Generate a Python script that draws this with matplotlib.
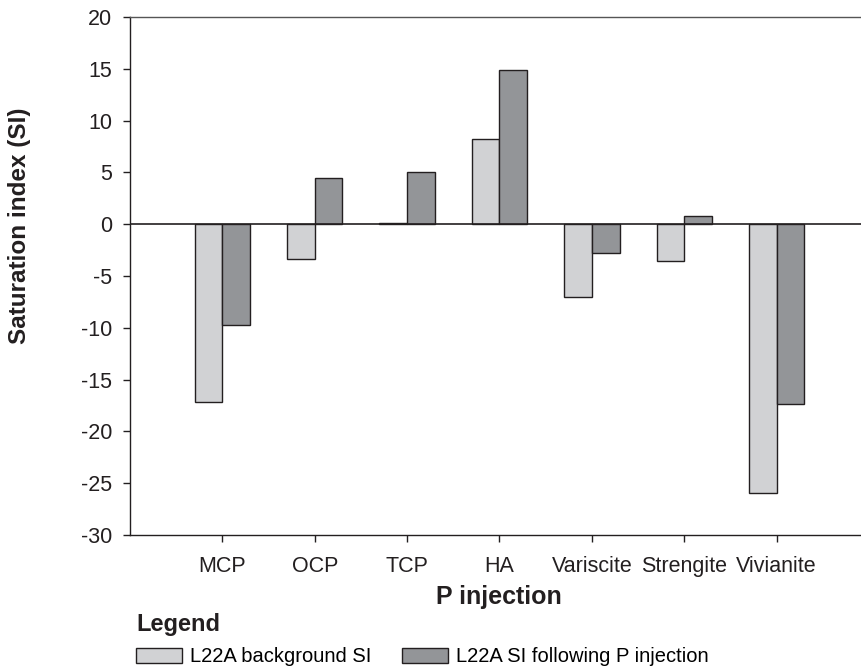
import matplotlib
matplotlib.use("Agg")
import matplotlib.pyplot as plt
import numpy as np

plt.rcParams["axes.unicode_minus"] = False

# data
minerals = ["MCP", "OCP", "TCP", "HA", "Variscite", "Strengite", "Vivianite"]
background_si = [-17.15, -3.4, 0.13, 8.27, -7.0, -3.53, -25.9]
injection_si = [-9.72, 4.47, 5.0, 14.84, -2.75, 0.81, -17.4]
series_names = ["L22A background SI", "L22A SI following P injection"]

light = "#d1d2d4"
dark = "#939598"
edge = "#231f20"

fig = plt.figure(figsize=(8.62, 6.72), dpi=100)
ax = fig.add_axes([130 / 862, 1 - 535 / 672, 739 / 862, 518 / 672])

x = np.arange(1, len(minerals) + 1)
w = 0.30
b1 = ax.bar(x - w / 2, background_si, w, color=light, edgecolor=edge, linewidth=1.0)
b2 = ax.bar(x + w / 2, injection_si, w, color=dark, edgecolor=edge, linewidth=1.0)
ax.axhline(0, color=edge, linewidth=1.2, zorder=3)

ax.set_xlim(0, 8)
ax.set_ylim(-30, 20)
ax.set_yticks(np.arange(-30, 21, 5))
ax.set_xticks(x)
ax.set_xticklabels(minerals)
ax.tick_params(axis="both", direction="out", length=5, width=1, color=edge,
               labelsize=15.5, labelcolor="#231f20")
ax.tick_params(axis="x", pad=10)
ax.tick_params(axis="y", pad=8)
for lab in ax.get_xticklabels() + ax.get_yticklabels():
    lab.set_fontfamily("Liberation Sans")

ax.spines["right"].set_visible(False)
for s in ["left", "bottom", "top"]:
    ax.spines[s].set_color(edge)
    ax.spines[s].set_linewidth(1.0)
ax.spines["top"].set_color("#555555")

fig.text(20 / 862, 1 - 226 / 672, "Saturation index (SI)", rotation=90,
         ha="center", va="center", fontsize=17.5, fontweight="bold",
         family="Liberation Sans", color=edge)
fig.text(499 / 862, 1 - 597 / 672, "P injection", ha="center", va="center",
         fontsize=18, fontweight="bold", family="Liberation Sans", color=edge)
fig.text(136 / 862, 1 - 625 / 672, "Legend", ha="left", va="center",
         fontsize=17, fontweight="bold", family="Liberation Sans", color=edge)

fig.legend([b1, b2], series_names, loc="center left",
           bbox_to_anchor=(136 / 862, 1 - 657 / 672), ncol=2, frameon=False,
           prop={"family": "Liberation Sans", "size": 14.5},
           handlelength=2.3, handleheight=0.75, handletextpad=0.4,
           columnspacing=1.5, borderpad=0, borderaxespad=0)

fig.savefig("out.png", dpi=100)
